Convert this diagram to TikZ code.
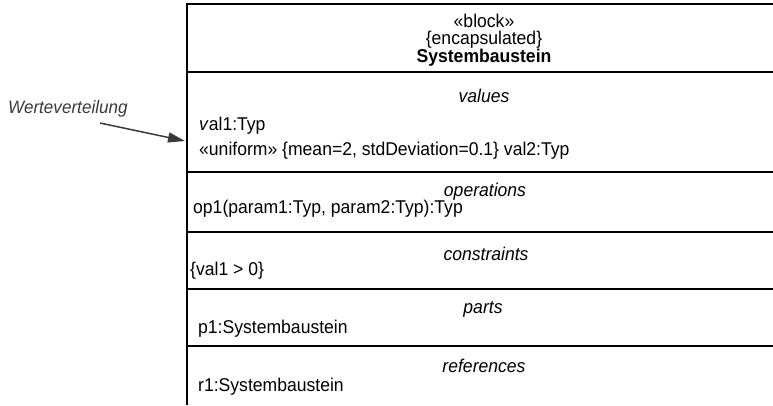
\documentclass[tikz,border=0pt]{standalone}
\usepackage{fontspec}
\setmainfont{Liberation Sans}[FakeStretch=0.95]
\usetikzlibrary{arrows.meta}
\definecolor{notegray}{HTML}{3A3A3A}
\newcommand{\tightlines}{\lineskiplimit=-20pt\relax}
\begin{document}
\begin{tikzpicture}[x=1pt,y=-1pt,
  frame/.style={line width=1.6pt, draw=black},
  basefont/.style={font=\fontsize{18.5}{16}\selectfont},
  txt/.style={basefont, inner sep=0pt, anchor=base west, text height=12pt, text depth=3.5pt},
  header/.style={font=\fontsize{18.5}{17}\selectfont, inner sep=0pt, anchor=north, align=center},
  ctitle/.style={font=\fontsize{18.5}{16}\selectfont\itshape, inner sep=0pt, anchor=base, text height=12pt, text depth=3.5pt},
  note/.style={font=\fontsize{18}{16}\selectfont\itshape, text=notegray, inner sep=0pt, anchor=base west},
  link/.style={draw=notegray, line width=1.5pt, -{Triangle[length=17pt,width=10pt,fill=notegray]}}]
\useasboundingbox (0,0) rectangle (773,405);
% block frame (open to the right and bottom, as in the reference)
\draw[frame] (773,4) -- (187,4) -- (187,405);
\foreach \yy in {72,172,232,289,346} \draw[frame] (187,\yy) -- (773,\yy);
% header
\node[header] (name) at (484,14) {\tightlines «block»\\ \{encapsulated\}\\ \textbf{Systembaustein}};
% values
\node[ctitle] (tvalues) at (484,102) {values};
\node[txt] (val1) at (199,130) {\textit{v}al1:Typ};
\node[txt] (val2) at (199,155) {«uniform» \{mean=2, stdDeviation=0.1\} val2:Typ};
% operations
\node[ctitle] (toper) at (485,196) {operations};
\node[txt] (op1) at (193,213) {op1(param1:Typ, param2:Typ):Typ};
% constraints
\node[ctitle] (tcons) at (486,260) {constraints};
\node[txt] (cons1) at (190,275) {\{val1 > 0\}};
% parts
\node[ctitle] (tparts) at (483,313) {parts};
\node[txt] (p1) at (198,333) {p1:Systembaustein};
% references
\node[ctitle] (trefs) at (484,372) {references};
\node[txt] (r1) at (198,391) {r1:Systembaustein};
% annotation
\node[note] (werte) at (8,113) {Werteverteilung};
\coordinate (wstart) at (100,123);
\coordinate (wtip) at (185,141);
\draw[link] (wstart) -- (wtip);
\end{tikzpicture}
\end{document}
